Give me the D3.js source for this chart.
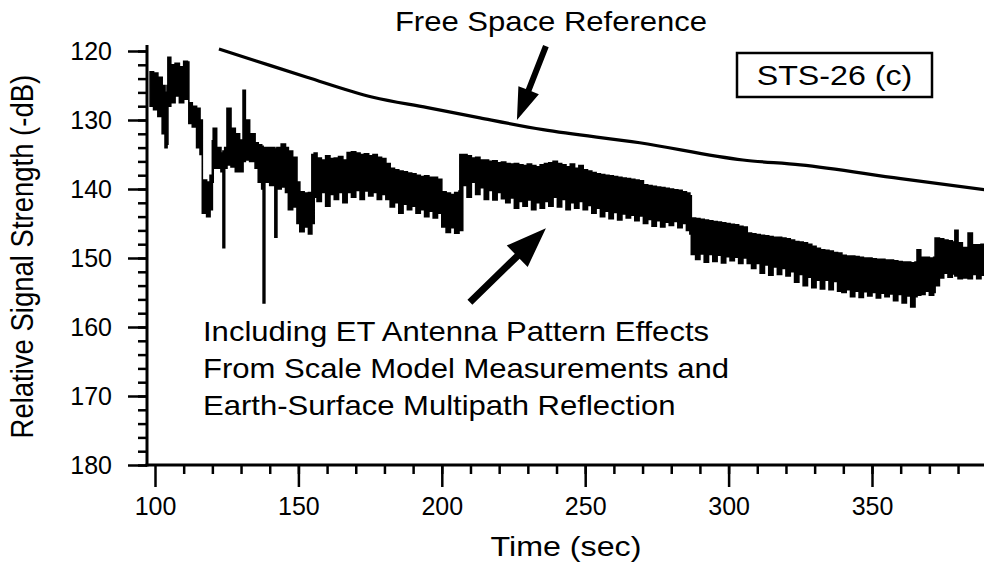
<!DOCTYPE html>
<html><head><meta charset="utf-8">
<script src="https://cdn.jsdelivr.net/npm/d3@7"></script>
<style>
html,body{margin:0;padding:0;background:#fff;}
svg{display:block;}
text{font-family:"Liberation Sans",Arial,Helvetica,sans-serif;fill:#000;}
</style></head>
<body>
<svg id="chart" width="984" height="566"></svg>
<script>
// ---- data ----
const xMajorTicks = [100, 150, 200, 250, 300, 350];
const yMajorTicks = [120, 130, 140, 150, 160, 170, 180];

// Free space reference curve
const fsTime  = [122.3, 135, 153, 176, 195, 213.3, 235.3, 269, 305, 325, 360, 389.5];
const fsValue = [119.7, 121.4, 123.8, 126.7, 128.2, 129.7, 131.4, 133.3, 135.8, 136.5, 138.5, 140.1];

// Measured signal (upper edge = sigHigh, lower edge = sigLow), dB
const sigTime = [98.3,99.5,101,102.5,103.5,104.2,104.5,105.5,107,108.5,110,111.3,111.8,113,114.5,115.7,116.5,118,119.2,120,120.3,121.5,123,123.7,124.3,125.1,126.5,128,129.5,130.7,131.5,133,134.9,136,137.2,137.7,138.3,140,141.8,142.5,144,145.5,146.5,148,149.5,150.5,152,153.5,154.7,155.5,
156.5,158,159.5,161,162.5,164,165.5,167,168.5,170,171.5,173,174.5,176,177.5,179,180.5,182,183.5,185,186.5,188,189.5,191,192.5,194,195.5,197,198.5,200,201.5,203,204.5,206,206.3,207.3,208.8,210.3,211.8,213.3,214.8,216.3,217.8,219.3,220.8,
222.3,223.8,225.3,226.8,228.3,229.8,231.3,232.8,234.3,235.8,237.3,238.8,240.3,241.8,243.3,244.8,246.3,247.8,249.3,250.8,252.3,253.8,255.3,256.8,258.3,259.8,261.3,262.8,264.3,265.8,267.3,268.8,270.3,271.8,273.3,274.8,276.3,277.8,279.3,280.8,282.3,283.8,285.3,286.5,287,
288.5,290,291.5,293,294.5,296,297.5,299,300.5,302,303.5,305,306.5,308,309.5,311,312.5,314,315.5,317,318.5,320,321.5,323,324.5,326,327.5,329,330.5,332,333.5,335,336.5,338,339.5,341,342.5,344,345.5,347,348.5,350,351.5,353,354.5,356,357.5,359,360.5,362,363.5,365,365.7,
367,368.5,370,371.5,372,373.5,375,376.5,378,378.9,380,381.5,383.5,385,386.5,388,389.5];
const sigHigh = [123,123.2,123.8,125,126,125,120.9,122,121.8,122.3,121.5,121.6,127.5,128,128.3,130,138.7,139,138,133,131.2,134,134.8,134.5,134,128.3,131.2,132,132.9,125.7,130,132,133.3,133.6,133.8,134,134,134,134.2,134,133.5,134,134.5,135.4,139,140.4,140.6,140.5,135,134.8,
135.5,135.8,135.2,135.6,135.5,135.3,135.8,134.7,134.6,134.8,135,134.9,135.2,135,135.4,135.6,136.3,137,137.2,137.4,137.5,137.7,137.8,138,138.2,138.1,138.3,138.3,138.6,140.4,140.6,140.8,140.5,140.3,135,135,135.2,135.5,135.4,135.8,135.8,136,135.9,136.2,136.1,
136.3,136.4,136.3,136.5,136.6,136.4,136.6,136.8,136.5,136.3,136.2,136,136.3,136.5,136.8,136.4,137,136.6,137.2,137.4,137.6,137.8,137.9,138,138.1,138.2,138.3,138.4,138.5,138.6,138.7,138.8,139.4,139.5,139.6,139.7,139.8,139.9,140,140.1,140.2,140.4,140.6,141,144.2,
144.3,144.4,144.5,144.6,144.7,144.8,144.9,145,145.1,145.2,145.4,145.5,146.4,146.5,146.6,146.7,146.8,146.9,147,147,147.1,147.2,147.4,147.6,147.7,147.8,148,148.3,148.6,148.8,148.9,149,149.2,149.3,149.6,149.7,149.7,149.8,149.9,150,150,150.1,150.2,150.2,150.3,150.3,150.4,150.5,150.6,150.6,150.7,150.6,148.8,
149.9,149.9,150,149.9,147.1,147.2,147.4,147.5,147.7,146,147.8,148.5,146.4,148.1,148.1,148,148.1];
const sigLow = [128,128.5,129.5,132,134,133.5,128,127.5,126.5,127.5,127,126.5,130.5,131,134,135,143.5,144,143,139,137,137,137.5,148.5,137,136.5,136.8,137.5,137.5,136,135.8,136,137,139,140,156.5,139,139.5,147,140,139.7,140.5,143,142.6,145,146.2,145.5,146.5,145,141.2,
141.8,140.5,142.5,140.8,141.5,140.5,142,140.5,141.2,140.2,141.5,140.3,141,140.5,141.5,140.8,141.5,142.6,142,143.5,142.2,143,142.5,143.5,143,144,143.2,144.2,143.5,145.5,146.3,145.6,146.4,145.8,146,139.5,141.2,139,140.8,139.8,141.5,140.2,141.6,140.5,141.4,
142,141.3,142.8,141.8,142.5,141.6,143,142,142.8,141.8,142.5,141.2,142.6,141.5,143,142,142.8,141.8,143,142.4,143.5,142.8,144,143.2,144.3,143.4,144.5,143.6,144.2,143.8,144.6,143.9,145,144.4,145.4,144.6,145.5,144.8,145.3,144.7,145.6,145,146,146.5,149.5,
150.2,149.4,150.6,149.5,150.5,149.6,150.7,149.8,150.4,149.9,150.8,150,150.8,151.5,150.8,152.2,151,152.5,151.3,152.4,151.5,152.6,152,153.5,152.4,154,152.8,154.3,153.2,154.5,153.2,154.6,153.4,154.8,155,154.6,155.6,154.8,155.7,154.9,155.5,155,155.8,155.1,155.6,155.2,156.2,155.3,156.5,155.5,157.1,155.6,155.4,
155.3,154.8,155.4,155,154,152.9,152.2,152.8,152.3,152.6,153,152.9,153,152.4,153,152.5,152.9];

// Annotations
const boxLabel = "STS-26 (c)";
const freeLabel = "Free Space Reference";
const effectLines = ["Including ET Antenna Pattern Effects","From Scale Model Measurements and","Earth-Surface Multipath Reflection"];

// ---- drawing ----
const svg = d3.select("#chart");
const x = d3.scaleLinear().domain([100, 350]).range([155, 872]);
const y = d3.scaleLinear().domain([120, 180]).range([51, 465]);
const xLeft = 147, xRight = 984, yBottom = 465, yTop = 45;
const SX = 1.15; // horizontal stretch of the lettering in the reference

function label(px, py, txt, size, anchor) {
  return svg.append("text")
    .attr("transform", `translate(${px},${py}) scale(${SX},1)`)
    .attr("text-anchor", anchor || "start")
    .attr("font-size", size).text(txt);
}

// axes lines
svg.append("line").attr("x1", xLeft).attr("x2", xLeft).attr("y1", yTop).attr("y2", yBottom + 1.5)
  .attr("stroke", "#000").attr("stroke-width", 3);
svg.append("line").attr("x1", xLeft - 1.5).attr("x2", xRight).attr("y1", yBottom).attr("y2", yBottom)
  .attr("stroke", "#000").attr("stroke-width", 3);

// Y axis ticks
const yMinor = svg.append("g").attr("transform", `translate(${xLeft},0)`)
  .call(d3.axisLeft(y).tickValues(d3.range(120, 181, 2)).tickSize(9).tickFormat(""));
const yMajor = svg.append("g").attr("transform", `translate(${xLeft},0)`)
  .call(d3.axisLeft(y).tickValues(yMajorTicks).tickSize(19).tickPadding(16));
[yMinor, yMajor].forEach(g => {
  g.select(".domain").remove();
  g.selectAll(".tick line").attr("stroke", "#000").attr("stroke-width", 2.5);
});
yMajor.selectAll(".tick text").attr("font-size", 25).attr("font-family", "Liberation Sans, Arial, sans-serif").attr("fill", "#000");

// X axis ticks
const xMinor = svg.append("g").attr("transform", `translate(0,${yBottom})`)
  .call(d3.axisBottom(x).tickValues(d3.range(110, 381, 10)).tickSize(9).tickFormat(""));
const xMajor = svg.append("g").attr("transform", `translate(0,${yBottom})`)
  .call(d3.axisBottom(x).tickValues(xMajorTicks).tickSize(22).tickPadding(10));
[xMinor, xMajor].forEach(g => {
  g.select(".domain").remove();
  g.selectAll(".tick line").attr("stroke", "#000").attr("stroke-width", 2.5);
});
xMajor.selectAll(".tick text").attr("font-size", 25).attr("font-family", "Liberation Sans, Arial, sans-serif").attr("fill", "#000");

// axis titles
label(566, 556, "Time (sec)", 28, "middle");
svg.append("text").attr("transform", `translate(33,${y(149.8)}) rotate(-90) scale(1,${SX})`).attr("text-anchor", "middle")
  .attr("font-size", 27.5).text("Relative Signal Strength (-dB)");

// measured signal band
const sig = sigTime.map((t, i) => ({t, hi: sigHigh[i], lo: sigLow[i]}));
svg.append("path").datum(sig)
  .attr("d", d3.area().x(d => x(d.t)).y0(d => y(d.lo)).y1(d => y(d.hi)).curve(d3.curveStepAfter))
  .attr("fill", "#000").attr("stroke", "#000").attr("stroke-width", 1.6).attr("stroke-linejoin", "miter");

// free space reference
const fs = fsTime.map((t, i) => ({t, v: fsValue[i]}));
svg.append("path").datum(fs)
  .attr("d", d3.line().x(d => x(d.t)).y(d => y(d.v)).curve(d3.curveMonotoneX))
  .attr("fill", "none").attr("stroke", "#000").attr("stroke-width", 3.2);

// arrows
function arrow(t0, v0, t1, v1, shaft, headLen, headW) {
  const x0 = x(t0), y0 = y(v0), x1 = x(t1), y1 = y(v1);
  const dx = x1 - x0, dy = y1 - y0, L = Math.hypot(dx, dy);
  const ux = dx / L, uy = dy / L, px = -uy, py = ux;
  const bx = x1 - ux * headLen, by = y1 - uy * headLen;
  const pts = [
    [x0 + px * shaft / 2, y0 + py * shaft / 2],
    [bx + px * shaft / 2, by + py * shaft / 2],
    [bx + px * headW / 2, by + py * headW / 2],
    [x1, y1],
    [bx - px * headW / 2, by - py * headW / 2],
    [bx - px * shaft / 2, by - py * shaft / 2],
    [x0 - px * shaft / 2, y0 - py * shaft / 2]
  ];
  svg.append("path").attr("d", d3.line()(pts) + "Z").attr("fill", "#000");
}
arrow(236.3, 119.3, 226.2, 130.0, 6, 32, 22);
arrow(209.8, 156.4, 236.3, 145.7, 7, 40, 30);

// labels
label(551, 31, freeLabel, 27, "middle");
const bx0 = 737, by0 = 53;
svg.append("rect").attr("x", bx0).attr("y", by0).attr("width", 195).attr("height", 44)
  .attr("fill", "#fff").attr("stroke", "#000").attr("stroke-width", 2.5);
label(bx0 + 97.5, by0 + 32, boxLabel, 28, "middle");
effectLines.forEach((d, i) => label(203, 341 + i * 37, d, 27));
</script>
</body></html>
